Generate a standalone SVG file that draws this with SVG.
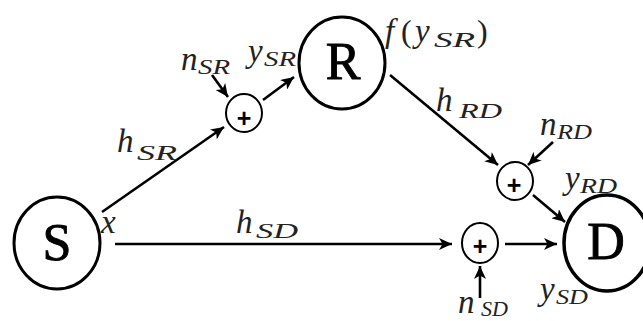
<svg xmlns="http://www.w3.org/2000/svg" width="643" height="321" viewBox="0 0 643 321">
<defs>
<marker id="arr" markerUnits="userSpaceOnUse" markerWidth="14" markerHeight="12" refX="13" refY="6" orient="auto">
<path d="M0,0 L13,6 L0,12 L3.5,6 z" fill="#000"/>
</marker>
<style>
.big{fill:#fff;stroke:#000;stroke-width:3}
.sum{fill:#fff;stroke:#000;stroke-width:2}
.nl{font-family:"Liberation Serif",serif;font-size:52px;text-anchor:middle;fill:#000;stroke:#000;stroke-width:0.9}
.plus{font-family:"Liberation Sans",sans-serif;font-size:25px;font-weight:bold;text-anchor:middle;fill:#000}
.m{font-family:"Liberation Serif",serif;font-style:italic;font-size:33px;fill:#222}
.s{font-family:"Liberation Serif",serif;font-style:italic;font-size:20px;fill:#222}
.up{font-family:"Liberation Serif",serif;font-size:32px;fill:#222}
.c line{stroke:#000;stroke-width:2.6;marker-end:url(#arr)}
</style>
</defs>
<rect width="643" height="321" fill="#fff"/>
<g class="c" id="connectors">
<line x1="102" y1="212" x2="224" y2="127"/>
<line x1="212" y1="75" x2="228" y2="97"/>
<line x1="263" y1="100" x2="294" y2="77"/>
<line x1="390" y1="75" x2="498" y2="165"/>
<line x1="553" y1="142" x2="528" y2="165"/>
<line x1="533" y1="195" x2="565" y2="222"/>
<line x1="115" y1="244" x2="452" y2="244"/>
<line x1="505" y1="244" x2="557" y2="244"/>
<line x1="480" y1="298" x2="480" y2="266"/>
</g>
<g id="S">
<ellipse class="big" cx="57" cy="243" rx="43" ry="46"/>
<text class="nl" x="57" y="260">S</text>
</g>
<g id="R">
<ellipse class="big" cx="342" cy="63" rx="43" ry="46"/>
<text class="nl" x="343" y="79">R</text>
</g>
<g id="D">
<ellipse class="big" cx="607" cy="243" rx="43" ry="48" style="stroke-width:3.5"/>
<text class="nl" x="606" y="259">D</text>
</g>
<g id="sumSR">
<ellipse class="sum" cx="244" cy="113" rx="18" ry="19"/>
<text class="plus" x="244" y="127">+</text>
</g>
<g id="sumRD">
<ellipse class="sum" cx="515" cy="181" rx="18" ry="19"/>
<text class="plus" x="514" y="194">+</text>
</g>
<g id="sumSD">
<ellipse class="sum" cx="480" cy="243" rx="18" ry="20"/>
<text class="plus" x="480" y="255">+</text>
</g>
<g id="labels">
<text class="m" x="117" y="152">h</text>
<text class="s" x="137" y="160" textLength="40" lengthAdjust="spacingAndGlyphs">SR</text>
<text class="m" x="181" y="70">n</text>
<text class="s" x="198" y="74" textLength="32" lengthAdjust="spacingAndGlyphs">SR</text>
<text class="m" x="248" y="62">y</text>
<text class="s" x="264" y="66" textLength="32" lengthAdjust="spacingAndGlyphs">SR</text>
<text class="m" x="385" y="42">f</text>
<text class="up" x="401" y="42">(</text>
<text class="m" x="415" y="42">y</text>
<text class="s" x="434" y="47" textLength="41" lengthAdjust="spacingAndGlyphs">SR</text>
<text class="up" x="477" y="42">)</text>
<text class="m" x="436" y="111">h</text>
<text class="s" x="459" y="118" textLength="43" lengthAdjust="spacingAndGlyphs">RD</text>
<text class="m" x="540" y="135">n</text>
<text class="s" x="557" y="139" textLength="35" lengthAdjust="spacingAndGlyphs">RD</text>
<text class="m" x="565" y="189">y</text>
<text class="s" x="580" y="193" textLength="37" lengthAdjust="spacingAndGlyphs">RD</text>
<text class="m" x="101" y="233">x</text>
<text class="m" x="236" y="233">h</text>
<text class="s" x="256" y="238" textLength="42" lengthAdjust="spacingAndGlyphs">SD</text>
<text class="m" x="540" y="300">y</text>
<text class="s" x="556" y="304" textLength="32" lengthAdjust="spacingAndGlyphs">SD</text>
<text class="m" x="458" y="313">n</text>
<text class="s" x="481" y="316" textLength="27" lengthAdjust="spacingAndGlyphs">SD</text>
</g>
</svg>
